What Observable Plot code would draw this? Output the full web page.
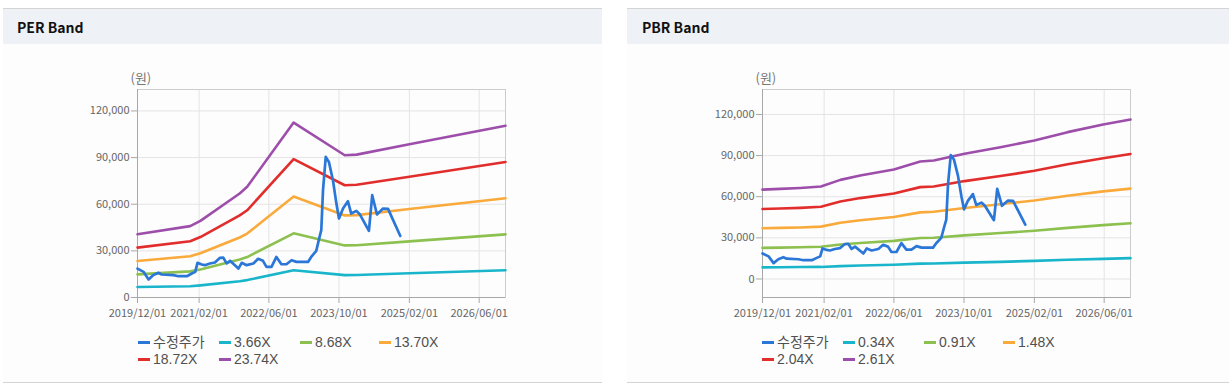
<!DOCTYPE html>
<html>
<head>
<meta charset="utf-8">
<script src="https://cdn.jsdelivr.net/npm/d3@7"></script>
<script src="https://cdn.jsdelivr.net/npm/@observablehq/plot@0.6"></script>
<style>
  html, body { margin: 0; padding: 0; background: #ffffff; }
  #page { position: relative; width: 1229px; height: 387px; overflow: hidden; font-family: "Noto Sans CJK KR", "Noto Sans", sans-serif; background: #ffffff; }
  .panel { position: absolute; top: 8px; height: 373px; background: #fdfdfd; border-top: 1px solid #d4d4d4; border-bottom: 1px solid #d4d4d4; }
  .head { position: absolute; left: 0; top: 0; right: 0; height: 35px; background: #eef2f7; }
  .head span { position: absolute; top: 8px; font-size: 14px; font-weight: 700; color: #111; font-family: "Noto Sans CJK KR", sans-serif; }
  .svgwrap { position: absolute; top: 35px; left: 0; }
  .leg { position: absolute; font-size: 14px; color: #505050; line-height: 16px; white-space: nowrap; font-family: "Liberation Sans", "Noto Sans CJK KR", sans-serif; }
  .leg i { display: inline-block; width: 12px; height: 3px; vertical-align: middle; margin-right: 3px; position: relative; top: -1px; }
  .leg b { font-weight: 400; font-size: 14px; }
</style>
</head>
<body>
<div id="page">
  <div class="panel" id="pL" style="left:3px;width:599px;"><div class="head"><span style="left:14px">PER Band</span></div></div>
  <div class="panel" id="pR" style="left:627px;width:602px;"><div class="head"><span style="left:15px">PBR Band</span></div></div>
</div>
<script>
// ---------- data ----------
const xTickDates = ["2019-12-01", "2021-02-01", "2022-06-01", "2023-10-01", "2025-02-01", "2026-06-01"];
const yTicks = [0, 30000, 60000, 90000, 120000];

const priceDates = ["2019-12-01","2020-01-12","2020-02-16","2020-03-20","2020-04-24","2020-05-17","2020-08-07","2020-09-11","2020-11-08","2020-12-12","2021-01-05","2021-01-21","2021-02-19","2021-03-13","2021-04-17","2021-05-22","2021-06-26","2021-07-19","2021-08-11","2021-09-04","2021-11-01","2021-11-24","2021-12-28","2022-02-13","2022-03-18","2022-04-21","2022-05-15","2022-06-19","2022-07-23","2022-08-27","2022-10-01","2022-11-05","2022-12-10","2023-02-28","2023-03-22","2023-04-26","2023-05-19","2023-05-31","2023-06-12","2023-07-01","2023-07-23","2023-08-20","2023-09-13","2023-10-01","2023-10-29","2023-12-02","2023-12-25","2024-01-30","2024-02-22","2024-04-26","2024-05-19","2024-06-21","2024-08-02","2024-09-06","2024-11-30"];
const priceValues = [18600,16500,11600,14400,15900,14800,14400,13700,13700,15400,16500,22300,21200,20800,21900,22500,25500,25700,21900,23600,18600,22300,20800,21900,24900,23600,19700,19700,26100,21400,21400,24000,22900,22900,26100,30000,39000,43300,69000,90400,87200,75400,60400,50800,57200,61900,54000,55700,53600,42900,65800,53400,57200,57000,39600];

const perDates = ["2019-12-01","2020-12-01","2021-02-10","2021-11-10","2022-01-01","2022-11-20","2023-11-10","2024-02-01","2025-02-01","2026-12-01"];
const per366  = [6800, 7200, 7800, 10500, 11200, 17500, 14400, 14500, 15600, 17500];
const per868  = [14900, 16800, 18000, 24500, 26000, 41300, 33500, 33600, 36100, 40600];
const per1370 = [23500, 26500, 28500, 38600, 41100, 65000, 52800, 53000, 56900, 63800];
const per1872 = [32100, 36200, 38900, 52800, 56100, 89000, 72200, 72500, 77700, 87200];
const per2374 = [40700, 45900, 49300, 66900, 71200, 112500, 91500, 91900, 98600, 110500];

const pbrDates = ["2019-12-01","2020-04-01","2020-08-20","2021-01-10","2021-05-25","2021-10-10","2022-06-01","2022-12-01","2023-03-05","2023-10-05","2024-06-10","2025-02-01","2025-09-20","2026-05-25","2026-12-01"];
const pbr034 = [8500, 8600, 8700, 8800, 9400, 9800, 10400, 11200, 11300, 11900, 12500, 13200, 14000, 14700, 15200];
const pbr091 = [22700, 22900, 23200, 23500, 25200, 26300, 27800, 29900, 30100, 31800, 33500, 35200, 37300, 39300, 40600];
const pbr148 = [37000, 37300, 37600, 38200, 41000, 42800, 45200, 48600, 49000, 51800, 54500, 57300, 60700, 63900, 65900];
const pbr204 = [51000, 51400, 51900, 52700, 56500, 59000, 62400, 67000, 67500, 71400, 75100, 78900, 83700, 88100, 91200];
const pbr261 = [65200, 65700, 66400, 67400, 72300, 75500, 79800, 85700, 86400, 91300, 96100, 101000, 107100, 112700, 116300];

const priceName = "수정주가";
const perNames = ["3.66X", "8.68X", "13.70X", "18.72X", "23.74X"];
const pbrNames = ["0.34X", "0.91X", "1.48X", "2.04X", "2.61X"];
const colors = {price: "#2b77d8", c1: "#19b5cb", c2: "#8cc04f", c3: "#f9aa3a", c4: "#e12e2c", c5: "#9d4eaa"};
const bandColors = [colors.c1, colors.c2, colors.c3, colors.c4, colors.c5];

// ---------- drawing ----------
const parse = d3.utcParse("%Y-%m-%d");
const fmtDate = d3.utcFormat("%Y/%m/%d");
const fmtNum = d3.format(",");
const xDomain = [parse("2019-12-01"), parse("2026-12-01")];
const xTicks = xTickDates.map(parse);

function rows(dates, values) {
  return dates.map((d, i) => ({date: parse(d), v: values[i]}));
}

function makeChart(panelWidth, marginLeft, marginRight, yDomain, bands) {
  const lineMarks = bands.map((b, i) => Plot.line(rows(b.dates, b.values), {x: "date", y: "v", stroke: bandColors[i], strokeWidth: 2.6}));
  return Plot.plot({
    width: panelWidth,
    height: 300,
    marginLeft, marginRight,
    marginTop: 45,
    marginBottom: 47,
    style: {fontFamily: "'Noto Sans CJK KR', 'Noto Sans', sans-serif", background: "transparent", overflow: "visible"},
    x: {type: "utc", domain: xDomain},
    y: {domain: yDomain},
    marks: [
      Plot.gridX(xTicks, {stroke: "#e4e4e4", strokeOpacity: 1}),
      Plot.gridY(yTicks, {stroke: "#e4e4e4", strokeOpacity: 1}),
      Plot.frame({stroke: "#cccccc"}),
      Plot.ruleX([xDomain[0]], {stroke: "#a8a8a8"}),
      Plot.ruleY([yDomain[0]], {stroke: "#a8a8a8"}),
      Plot.axisX({ticks: xTicks, tickFormat: fmtDate, tickSize: 6, tickPadding: 6, fontSize: 11, fill: "#666", stroke: "#a8a8a8", label: null}),
      Plot.axisY({ticks: yTicks, tickFormat: fmtNum, tickSize: 6, tickPadding: 2, fontSize: 11, fill: "#666", stroke: "#a8a8a8", label: null}),
      Plot.text(["(원)"], {frameAnchor: "top-left", text: d => d, dx: -7, dy: -16, fontSize: 13, fill: "#777"}),
      ...lineMarks,
      Plot.line(rows(priceDates, priceValues), {x: "date", y: "v", stroke: colors.price, strokeWidth: 2.7})
    ]
  });
}

function addLegend(panel, left, names) {
  const cols = [0, 81, 162, 241];
  const items = [{n: `<b>${priceName}</b>`, c: colors.price}].concat(names.map((n, i) => ({n, c: bandColors[i]})));
  items.forEach((it, k) => {
    const div = document.createElement("div");
    div.className = "leg";
    const row = Math.floor(k / 4), col = k % 4;
    div.style.left = (left + cols[col]) + "px";
    div.style.top = (325 + row * 17) + "px";
    div.innerHTML = `<i style="background:${it.c}"></i>${it.n}`;
    panel.appendChild(div);
  });
}

const pL = document.getElementById("pL");
const pR = document.getElementById("pR");

const svgL = makeChart(599, 134, 97, [0, 133800], [
  {dates: perDates, values: per366}, {dates: perDates, values: per868}, {dates: perDates, values: per1370},
  {dates: perDates, values: per1872}, {dates: perDates, values: per2374}
]);
const wL = document.createElement("div"); wL.className = "svgwrap"; wL.appendChild(svgL); pL.appendChild(wL);

const svgR = makeChart(602, 135, 99, [-13500, 138200], [
  {dates: pbrDates, values: pbr034}, {dates: pbrDates, values: pbr091}, {dates: pbrDates, values: pbr148},
  {dates: pbrDates, values: pbr204}, {dates: pbrDates, values: pbr261}
]);
const wR = document.createElement("div"); wR.className = "svgwrap"; wR.appendChild(svgR); pR.appendChild(wR);

addLegend(pL, 135, perNames);
addLegend(pR, 135, pbrNames);
</script>
</body>
</html>
